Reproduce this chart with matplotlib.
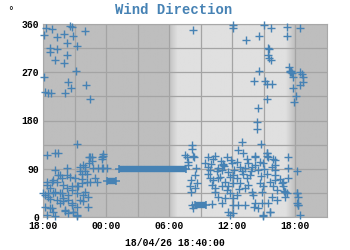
import numpy as np
import matplotlib
matplotlib.use("Agg")
import matplotlib.pyplot as plt

# hours since 17/04/26 18:00, wind direction in degrees
hours = [
    # evening / night, north-west
    0.29, 0.83, 0.10, 2.57, 2.79, 3.99, 2.02, 1.36, 2.88, 2.31, 3.20, 0.67, 1.30, 0.67,
    2.25, 1.14, 2.02, 3.11, 0.10, 2.35, 2.63, 4.09, 0.19, 0.50, 0.76, 2.09, 4.47,
    3.26, 0.35, 1.14, 1.46, 4.40, 4.63, 5.58,
    # night, east
    4.47, 5.73, 4.63, 4.40, 3.83, 4.78, 5.26, 5.58, 1.14, 3.52, 3.99, 2.25, 2.57, 1.62,
    3.04, 3.68, 0.35, 0.83, 1.30, 4.15, 4.47, 5.10, 1.93, 2.73, 3.36, 0.03, 0.50, 0.98,
    1.78, 2.41, 3.20, 3.83, 0.67, 1.30, 1.93, 2.73, 3.52, 4.31, 0.19, 0.83, 2.09, 2.88,
    0.35, 1.14, 3.20, 0.98, 1.46, 2.25, 1.78, 3.52, 3.99, 3.68, 4.15, 5.73, 4.94, 0.19,
    0.50, 1.14, 1.62, 1.93, 2.41, 2.73, 3.20, 3.83, 0.67, 0.98, 2.09, 2.41, 2.88, 3.26,
    1.62, 2.25, 2.73, 3.20, 3.68, 0.35, 0.67, 4.31, 3.99, 5.73, 5.58, 6.05,
    # day / evening, north-west
    14.29, 18.04, 18.04, 19.30, 20.54, 21.04, 21.65, 23.23, 24.43, 23.23, 21.42, 21.52,
    21.36, 21.52, 21.68, 23.39, 23.55, 23.64, 24.43, 24.60, 24.69, 20.54, 20.09, 21.11,
    21.27, 21.74, 23.80, 24.75, 24.43, 23.80, 24.02, 23.89, 21.27, 20.47, 20.32,
    23.47, 23.50, 23.60,
    # day, east
    20.32, 18.89, 20.73, 14.20, 14.20, 13.66, 14.38, 18.57, 19.04, 19.37, 20.16, 21.27,
    21.42, 23.32, 22.06, 15.72, 16.19, 16.35, 17.46, 17.94, 13.76, 13.82, 14.52, 15.72,
    16.67, 18.41, 18.73, 19.20, 19.84, 20.16, 20.63, 20.95, 21.74, 22.06, 23.32, 24.12,
    14.45, 14.07, 13.98, 14.07, 15.88, 16.04, 16.83, 17.30, 16.99, 17.46, 17.78, 18.09,
    18.41, 18.73, 19.04, 19.37, 19.68, 19.20, 19.84, 19.99, 20.63, 20.95, 20.79, 21.58,
    21.90, 22.22, 22.06, 22.69, 22.85, 23.32, 22.22, 21.74, 21.42, 23.00, 23.17, 24.12,
    24.21, 24.21, 24.43, 21.58, 20.95, 20.16, 20.47, 19.20, 18.57, 18.09, 17.62, 17.78,
    18.09, 16.99, 17.30, 16.04, 18.09, 18.41, 16.35, 16.67,
    20.16, 21.33, 21.33, 22.06, 21.90, 21.27, 22.06, 22.53, 22.85, 23.00, 23.05, 22.95,
    24.12, 24.12, 24.27, 20.06, 20.79, 21.58, 20.95,
    13.50, 14.29, 15.88, 15.72, 17.14, 17.20, 17.10, 16.19, 16.67, 17.78, 18.09, 14.61,
    14.45, 14.20, 14.30,
    16.50, 17.00, 17.60, 18.20, 18.90, 19.50, 17.90, 16.90, 15.40, 16.00, 19.80, 20.40,
    21.00, 20.70, 18.60, 17.60, 16.40, 19.50,
]
direction = [
    352, 350, 339, 356, 355, 347, 341, 335, 338, 324, 319, 315, 313, 307,
    302, 293, 288, 273, 262, 251, 240, 246, 234, 232, 232, 231, 221,
    137, 116, 119, 119, 111, 111, 112,
    112, 114, 105, 100, 97, 91, 91, 91, 88, 85, 85, 78, 75, 78,
    72, 70, 66, 66, 66, 66, 66, 66, 60, 58, 57, 44, 44, 45,
    44, 41, 44, 41, 33, 32, 29, 27, 32, 19, 19, 16, 12, 10,
    4, 2, 4, 69, 78, 91, 72, 94, 94, 81, 81, 91, 72, 41,
    38, 47, 44, 35, 32, 22, 19, 29, 16, 10, 13, 7, 9, 2,
    26, 54, 50, 57, 63, 60, 54, 38, 47, 117, 109, 92,
    349, 358, 352, 330, 338, 358, 352, 354, 352, 338, 315, 313,
    302, 296, 292, 280, 271, 268, 271, 267, 262, 273, 254, 254,
    249, 248, 261, 252, 246, 240, 226, 215, 220, 203, 178,
    272, 270, 273,
    165, 140, 137, 134, 127, 112, 112, 125, 119, 109, 112, 119,
    112, 112, 106, 112, 109, 114, 112, 100, 103, 97, 91, 94,
    91, 103, 94, 91, 94, 97, 103, 100, 94, 88, 91, 85,
    78, 69, 57, 47, 72, 60, 75, 66, 57, 50, 44, 78,
    72, 63, 81, 72, 78, 54, 47, 41, 63, 57, 47, 66,
    57, 50, 69, 63, 57, 72, 32, 38, 26, 38, 44, 44,
    38, 22, 4, 9, 4, 26, 16, 22, 22, 22, 9, 4,
    7, 26, 35, 24, 35, 41, 47, 38,
    114, 119, 114, 97, 108, 81, 78, 70, 66, 47, 46, 48,
    45, 26, 22, 19, 26, 10, 1,
    116, 114, 88, 81, 97, 95, 98, 69, 72, 75, 63, 63,
    54, 22, 16,
    85, 88, 84, 88, 86, 100, 106, 104, 100, 98, 85, 88,
    90, 76, 52, 58, 54, 60,
]

# steady readings (start hour, end hour, direction)
calm_start = [6.08, 7.20, 14.50]
calm_end = [6.94, 13.60, 15.50]
calm_dir = [68, 90, 23]

# daylight: sunrise / sunset as hours since 18:00
sunrise = 11.9
sunset = 23.1
twilight = 0.9

tick_hours = [0, 6, 12, 18, 24]
tick_labels = ["18:00", "00:00", "06:00", "12:00", "18:00"]
xmax = 27.0

mono = "Liberation Mono"
blue = "#4682b4"

fig = plt.figure(figsize=(3.5, 2.5), dpi=100)
ax = fig.add_axes([0.123, 0.132, 0.811, 0.772])

# night/day background with soft transitions
xs = np.linspace(0, xmax, 600)
light = np.interp(xs, [0, sunrise, sunrise + twilight, sunset, sunset + twilight, xmax],
                  [0, 0, 1, 1, 0, 0])
grey = (190 + 34 * light) / 255.0
img = np.dstack([grey, grey, grey])
ax.imshow(img, extent=[0, xmax, 0, 360], aspect="auto", zorder=0)

ax.set_xlim(0, xmax)
ax.set_ylim(0, 360)
ax.set_xticks(tick_hours)
ax.set_xticklabels(tick_labels)
ax.set_xticks(np.arange(3, xmax, 6), minor=True)
ax.set_yticks([0, 90, 180, 270, 360])
ax.set_yticks([45, 135, 225, 315], minor=True)
ax.grid(True, which="both", color="#a4a4a4", lw=0.9, zorder=1)
ax.tick_params(which="both", length=0, pad=3, labelsize=7)
for lab in ax.get_xticklabels() + ax.get_yticklabels():
    lab.set_fontfamily(mono)
    lab.set_fontweight("bold")
for s in ax.spines.values():
    s.set_color("#a8a8a8")
    s.set_linewidth(0.8)

ax.hlines(calm_dir, calm_start, calm_end, colors=blue, lw=4.6, zorder=3)
ax.plot(calm_start + calm_end, calm_dir + calm_dir, "+", color=blue, ms=6, mew=1.1, zorder=3)
ax.plot(hours, direction, "+", color=blue, ms=6, mew=1.0, zorder=3, clip_on=False)

fig.text(0.497, 0.99, "Wind Direction", ha="center", va="top", color=blue,
         fontsize=10, fontweight="bold", family=mono)
fig.text(0.03, 0.975, "°", ha="center", va="top", fontsize=7, family="DejaVu Sans")
fig.text(0.5, 0.028, "18/04/26 18:40:00", ha="center", va="center",
         fontsize=7, fontweight="bold", family=mono)

fig.savefig("out.png", dpi=100)
